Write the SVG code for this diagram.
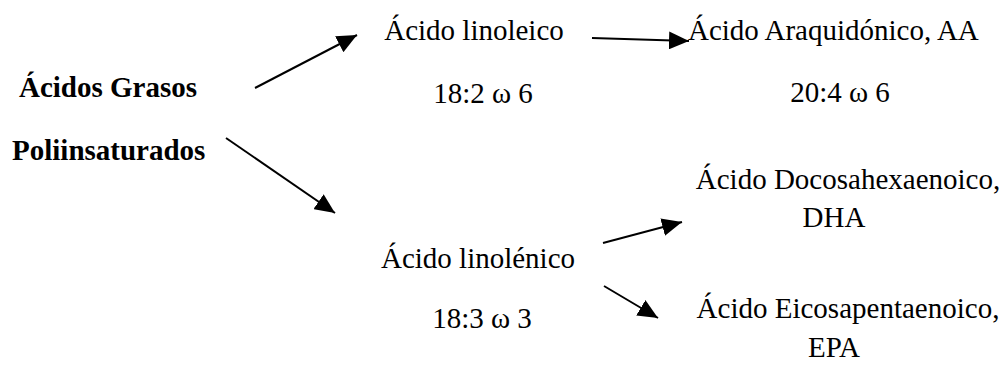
<svg xmlns="http://www.w3.org/2000/svg" width="1004" height="381" viewBox="0 0 1004 381">
<style>
.t{font-family:"Liberation Serif","Times New Roman",serif;font-size:29px;fill:#000}
.b{font-weight:bold}
.m{text-anchor:middle}
.c{stroke:#000;stroke-width:2;fill:none}
</style>
<defs>
<marker id="ah" markerUnits="userSpaceOnUse" markerWidth="22" markerHeight="18" refX="20" refY="9" orient="auto">
<path d="M0,0 L20,9 L0,18 Z" fill="#000"/>
</marker>
</defs>
<rect width="1004" height="381" fill="#fff"/>
<g id="pufa">
<text class="t b" x="19" y="97">Ácidos Grasos</text>
<text class="t b" x="12" y="160">Poliinsaturados</text>
</g>
<g id="linoleico">
<text class="t m" x="474" y="40">Ácido linoleico</text>
<text class="t m" x="483" y="103">18:2 ω 6</text>
</g>
<g id="aa">
<text class="t" x="688" y="40">Ácido Araquidónico, AA</text>
<text class="t m" x="840" y="102">20:4 ω 6</text>
</g>
<g id="linolenico">
<text class="t m" x="478" y="268">Ácido linolénico</text>
<text class="t m" x="482" y="328">18:3 ω 3</text>
</g>
<g id="dha">
<text class="t m" x="848" y="189">Ácido Docosahexaenoico,</text>
<text class="t m" x="834" y="227">DHA</text>
</g>
<g id="epa">
<text class="t m" x="848" y="318">Ácido Eicosapentaenoico,</text>
<text class="t m" x="834" y="357">EPA</text>
</g>
<g id="connectors">
<line class="c" x1="255" y1="88" x2="357" y2="35" marker-end="url(#ah)"/>
<line class="c" x1="592" y1="38" x2="689" y2="41" marker-end="url(#ah)"/>
<line class="c" x1="226" y1="138" x2="335" y2="213" marker-end="url(#ah)"/>
<line class="c" x1="603" y1="243" x2="682" y2="222" marker-end="url(#ah)"/>
<line class="c" x1="604" y1="286" x2="658" y2="318" marker-end="url(#ah)"/>
</g>
</svg>
